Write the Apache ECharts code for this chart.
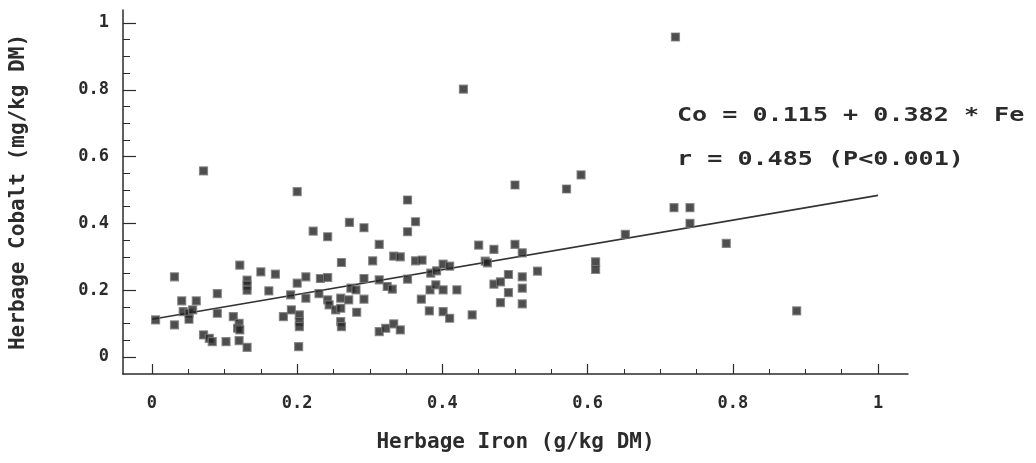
<!DOCTYPE html>
<html>
<head>
<meta charset="utf-8">
<script src="https://cdn.jsdelivr.net/npm/echarts@6/dist/echarts.min.js"></script>
<style>
html,body{margin:0;padding:0;background:#fff;}
#chart{width:1036px;height:463px;}
</style>
</head>
<body>
<div id="chart"></div>
<script>
// Herbage iron (g/kg DM) values of the sampled points
const ironValues = [
  0.005,0.031,0.031,0.041,0.061,0.043,0.051,0.056,0.051,0.071,
  0.071,0.079,0.083,0.090,0.090,0.102,0.112,0.120,0.118,0.121,
  0.120,0.121,0.131,0.131,0.131,0.131,0.150,0.161,0.170,0.181,
  0.191,0.192,0.200,0.200,0.203,0.203,0.203,0.202,0.212,0.212,
  0.222,0.230,0.232,0.242,0.242,0.242,0.244,0.253,0.260,0.260,
  0.260,0.261,0.261,0.271,0.272,0.274,0.281,0.282,0.292,0.292,
  0.292,0.304,0.313,0.313,0.313,0.322,0.324,0.331,0.333,0.333,
  0.342,0.342,0.352,0.352,0.352,0.363,0.363,0.372,0.371,0.383,
  0.384,0.382,0.391,0.392,0.401,0.401,0.401,0.410,0.410,0.420,
  0.429,0.441,0.450,0.459,0.462,0.471,0.471,0.480,0.480,0.491,
  0.491,0.500,0.500,0.510,0.510,0.510,0.510,0.531,0.571,0.591,
  0.611,0.611,0.652,0.721,0.719,0.741,0.741,0.791,0.888
];
// Herbage cobalt (mg/kg DM) values, same order
const cobaltValues = [
  0.111,0.240,0.096,0.168,0.168,0.136,0.131,0.141,0.113,0.557,
  0.066,0.056,0.046,0.190,0.131,0.046,0.121,0.101,0.086,0.081,
  0.049,0.275,0.230,0.215,0.200,0.029,0.255,0.198,0.248,0.121,
  0.186,0.141,0.495,0.221,0.126,0.106,0.091,0.031,0.240,0.176,
  0.377,0.190,0.235,0.238,0.360,0.171,0.156,0.141,0.146,0.176,
  0.106,0.091,0.283,0.171,0.403,0.206,0.201,0.134,0.387,0.235,
  0.173,0.288,0.337,0.231,0.076,0.086,0.211,0.203,0.302,0.099,
  0.300,0.081,0.470,0.375,0.233,0.405,0.288,0.290,0.173,0.201,
  0.251,0.138,0.216,0.258,0.201,0.278,0.136,0.272,0.116,0.201,
  0.802,0.126,0.335,0.287,0.282,0.322,0.218,0.225,0.163,0.247,
  0.193,0.515,0.337,0.312,0.240,0.206,0.159,0.257,0.503,0.545,
  0.285,0.262,0.367,0.958,0.447,0.447,0.400,0.340,0.138
];
// Fitted regression line end points (as drawn)
const fitIron = [0, 1];
const fitCobalt = [0.113, 0.484];

// Axis ticks and labels
const xMajorTicks = [0, 0.2, 0.4, 0.6, 0.8, 1];
const xTickLabels = ['0', '0.2', '0.4', '0.6', '0.8', '1'];
const yMajorTicks = [0, 0.2, 0.4, 0.6, 0.8, 1];
const yTickLabels = ['0', '0.2', '0.4', '0.6', '0.8', '1'];
const xMinorTicks = [0.05,0.1,0.15,0.25,0.3,0.35,0.45,0.5,0.55,0.65,0.7,0.75,0.85,0.9,0.95];
const yMinorTicks = [0.05,0.1,0.15,0.25,0.3,0.35,0.45,0.5,0.55,0.65,0.7,0.75,0.85,0.9,0.95];

const xTitle = 'Herbage Iron (g/kg DM)';
const yTitle = 'Herbage Cobalt (mg/kg DM)';
const equationText = 'Co = 0.115 + 0.382 * Fe';
const corrText = 'r = 0.485 (P<0.001)';

const X_MIN = -0.0399, X_MAX = 1.0413;
const Y_MIN = -0.0509, Y_MAX = 1.0389;

const FONT = '"DejaVu Sans Mono", "Liberation Mono", monospace';
const INK = '#2b2b2b';

function labelFor(ticks, labels) {
  return v => {
    for (let i = 0; i < ticks.length; i++) {
      if (Math.abs(ticks[i] - v) < 1e-6) return labels[i];
    }
    return '';
  };
}

const points = ironValues.map((x, i) => [x, cobaltValues[i]]);
const fitLine = fitIron.map((x, i) => [x, fitCobalt[i]]);

const chart = echarts.init(document.getElementById('chart'), null, {renderer: 'canvas'});
chart.setOption({
  backgroundColor: '#ffffff',
  animation: false,
  grid: {left: 122, right: 128, top: 10, bottom: 89},
  xAxis: [{
    type: 'value', min: X_MIN, max: X_MAX, position: 'bottom',
    axisLine: {show: true, onZero: false, lineStyle: {color: INK, width: 1.5}},
    axisTick: {show: true, inside: true, length: 10, customValues: xMajorTicks, lineStyle: {color: INK, width: 1.2}},
    axisLabel: {show: true, customValues: xMajorTicks, formatter: labelFor(xMajorTicks, xTickLabels),
      margin: 21, fontSize: 17, fontWeight: 'bold', fontFamily: FONT, color: INK},
    splitLine: {show: false},
    name: xTitle, nameLocation: 'middle', nameGap: 58,
    nameTextStyle: {fontSize: 21, fontWeight: 'bold', fontFamily: FONT, color: INK}
  }, {
    type: 'value', min: X_MIN, max: X_MAX, position: 'bottom',
    axisLine: {show: false, onZero: false},
    axisTick: {show: true, inside: true, length: 5, customValues: xMinorTicks, lineStyle: {color: INK, width: 1}},
    axisLabel: {show: false},
    splitLine: {show: false}
  }],
  yAxis: [{
    type: 'value', min: Y_MIN, max: Y_MAX, position: 'left',
    axisLine: {show: true, onZero: false, lineStyle: {color: INK, width: 1.5}},
    axisTick: {show: true, inside: true, length: 13, customValues: yMajorTicks, lineStyle: {color: INK, width: 1.2}},
    axisLabel: {show: true, customValues: yMajorTicks, formatter: labelFor(yMajorTicks, yTickLabels),
      margin: 14, fontSize: 17, fontWeight: 'bold', fontFamily: FONT, color: INK},
    splitLine: {show: false},
    name: yTitle, nameLocation: 'middle', nameGap: 94, nameRotate: 90,
    nameTextStyle: {fontSize: 21, fontWeight: 'bold', fontFamily: FONT, color: INK}
  }, {
    type: 'value', min: Y_MIN, max: Y_MAX, position: 'left',
    axisLine: {show: false, onZero: false},
    axisTick: {show: true, inside: true, length: 7, customValues: yMinorTicks, lineStyle: {color: INK, width: 1}},
    axisLabel: {show: false},
    splitLine: {show: false}
  }],
  series: [{
    type: 'scatter', xAxisIndex: 0, yAxisIndex: 0,
    data: points,
    symbol: 'rect', symbolSize: 8,
    itemStyle: {color: '#222222', borderColor: '#7a7a7a', borderWidth: 1.2},
    z: 3
  }, {
    type: 'line', xAxisIndex: 0, yAxisIndex: 0,
    data: fitLine, symbol: 'none',
    lineStyle: {color: '#333333', width: 1.6},
    z: 2
  }],
  graphic: [{
    type: 'text', x: 677, y: 116, scaleX: 1.32, scaleY: 1,
    style: {text: equationText, x: 0, y: 0, fontSize: 19, fontWeight: 'bold', fontFamily: FONT, fill: INK,
      textAlign: 'left', textVerticalAlign: 'middle'}
  }, {
    type: 'text', x: 677, y: 160, scaleX: 1.32, scaleY: 1,
    style: {text: corrText, x: 0, y: 0, fontSize: 19, fontWeight: 'bold', fontFamily: FONT, fill: INK,
      textAlign: 'left', textVerticalAlign: 'middle'}
  }]
});
</script>
</body>
</html>
